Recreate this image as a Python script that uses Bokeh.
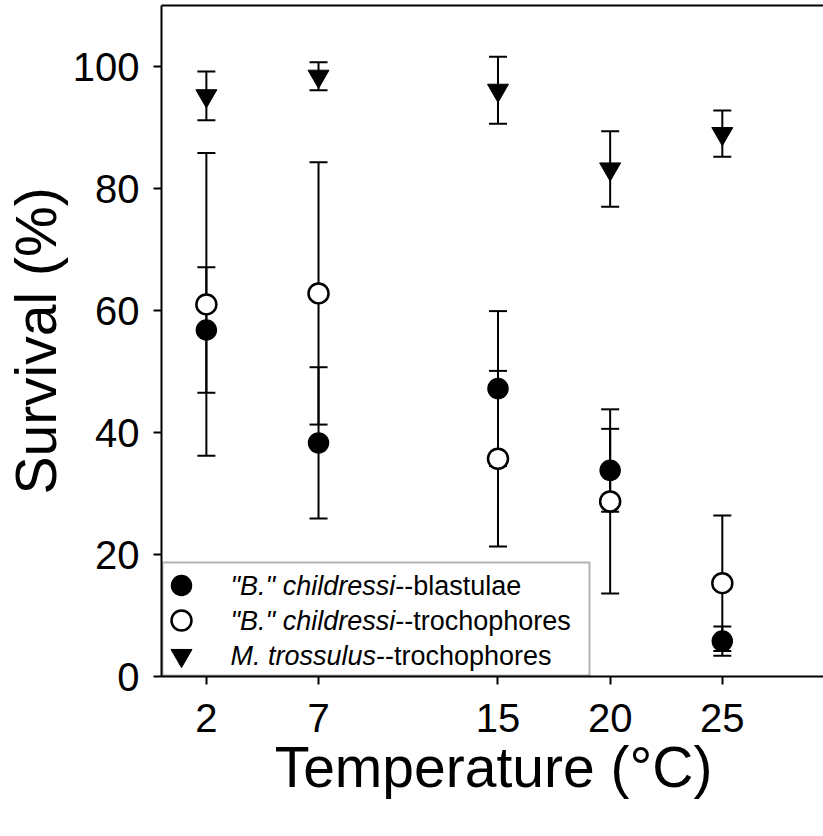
from bokeh.plotting import figure
from bokeh.models import (ColumnDataSource, Whisker, TeeHead, LinearAxis,
                          FixedTicker, Range1d, Label, BoxAnnotation)
from bokeh.embed import file_html
from bokeh.resources import INLINE

# ---- data ----
temps = [2, 7, 15, 20, 25]
blast_mean = [56.8, 38.3, 47.2, 33.8, 5.8]
blast_sd = [10.3, 12.4, 12.7, 6.8, 2.4]
troch_mean = [61.0, 62.8, 35.7, 28.7, 15.3]
troch_sd = [24.8, 21.5, 14.4, 15.1, 11.1]
tross_mean = [95.2, 98.4, 96.1, 83.2, 89.0]
tross_sd = [4.0, 2.3, 5.5, 6.2, 3.8]
y_ticks = [0, 20, 40, 60, 80, 100]
legend_labels = [('"B." childressi', '--blastulae'),
                 ('"B." childressi', '--trochophores'),
                 ('M. trossulus', '--trochophores')]

# ---- layout ----
X0, X1 = 0, 29.6
Y0, Y1 = 0, 110
FL, FT, FR, FB = 159, 5, 823, 676   # frame edges in pixels
FONT = "Liberation Sans"

p = figure(frame_width=FR - FL, frame_height=FB - FT,
           x_range=Range1d(X0, X1), y_range=Range1d(Y0, Y1),
           output_backend="svg", toolbar_location=None,
           min_border_left=FL, min_border_right=0, min_border_top=FT,
           min_border_bottom=836 - FB)
p.outline_line_color = None
p.xgrid.visible = False
p.ygrid.visible = False
p.background_fill_color = "white"
p.border_fill_color = "white"

for ax in (p.xaxis[0], p.yaxis[0]):
    ax.axis_line_width = 2
    ax.major_tick_line_width = 2
    ax.major_tick_in = 0
    ax.major_tick_out = 8
    ax.minor_tick_out = 0
    ax.minor_tick_in = 0
    ax.major_label_text_font = FONT
    ax.major_label_text_font_size = "40px"
    ax.major_label_text_color = "black"
    ax.axis_label_text_font = FONT
    ax.axis_label_text_font_size = "57px"
    ax.axis_label_text_font_style = "normal"
    ax.axis_label_text_color = "black"

p.xaxis[0].ticker = FixedTicker(ticks=temps)
p.xaxis[0].axis_label = "Temperature (°C)"
p.xaxis[0].major_label_standoff = 19
p.xaxis[0].axis_label_standoff = 0

p.yaxis[0].ticker = FixedTicker(ticks=y_ticks)
p.yaxis[0].axis_label = "Survival (%)"
p.yaxis[0].major_label_standoff = 14
p.yaxis[0].axis_label_standoff = 2

top = LinearAxis(ticker=FixedTicker(ticks=[]), major_label_text_font_size="0px",
                 major_tick_out=0, major_tick_in=0, minor_tick_out=0, minor_tick_in=0,
                 major_label_standoff=0, axis_line_width=2)
p.add_layout(top, "above")


def whisker(means, sds):
    src = ColumnDataSource(dict(x=temps,
                                upper=[m + s for m, s in zip(means, sds)],
                                lower=[m - s for m, s in zip(means, sds)]))
    w = Whisker(source=src, base="x", upper="upper", lower="lower",
                line_width=2, line_color="black",
                upper_head=TeeHead(size=18, line_width=2, line_color="black"),
                lower_head=TeeHead(size=18, line_width=2, line_color="black"))
    w.level = "underlay"
    p.add_layout(w)


whisker(troch_mean, troch_sd)
whisker(blast_mean, blast_sd)
whisker(tross_mean, tross_sd)

p.scatter(temps, blast_mean, marker="circle", size=20,
          fill_color="black", line_color="black", line_width=1.5)
p.scatter(temps, troch_mean, marker="circle", size=20,
          fill_color="white", line_color="black", line_width=2.5)
p.scatter(temps, tross_mean, marker="inverted_triangle", size=21,
          fill_color="black", line_color="black", line_width=1)


# ---- custom legend (mixed italic / upright text) ----
def dx(px):
    return X0 + (px - FL) / (FR - FL) * (X1 - X0)


def dy(py):
    return Y0 + (FB - py) / (FB - FT) * (Y1 - Y0)


box = BoxAnnotation(left=dx(160), right=dx(587), top=dy(562), bottom=dy(675),
                    fill_color="white", fill_alpha=1.0,
                    line_color="black", line_width=2)
box.level = "underlay"
p.add_layout(box)

row_y = [585, 620, 655]
mx = dx(179)
p.scatter([mx], [dy(row_y[0])], marker="circle", size=20,
          fill_color="black", line_color="black", line_width=1.5)
p.scatter([mx], [dy(row_y[1])], marker="circle", size=20,
          fill_color="white", line_color="black", line_width=2.5)
p.scatter([mx], [dy(row_y[2])], marker="inverted_triangle", size=21,
          fill_color="black", line_color="black", line_width=1)

LFS = 27
italic_em = [6.10, 6.10, 5.39]   # Arial/Liberation advance widths (em)
for (it, nm), ry, em in zip(legend_labels, row_y, italic_em):
    p.add_layout(Label(x=dx(228), y=dy(ry), text=it, text_font=FONT,
                       text_font_size=f"{LFS}px", text_font_style="italic",
                       text_baseline="middle", text_color="black"))
    p.add_layout(Label(x=dx(228 + em * LFS), y=dy(ry), text=nm, text_font=FONT,
                       text_font_size=f"{LFS}px", text_font_style="normal",
                       text_baseline="middle", text_color="black"))

open("out.html", "w").write(file_html(p, INLINE))
